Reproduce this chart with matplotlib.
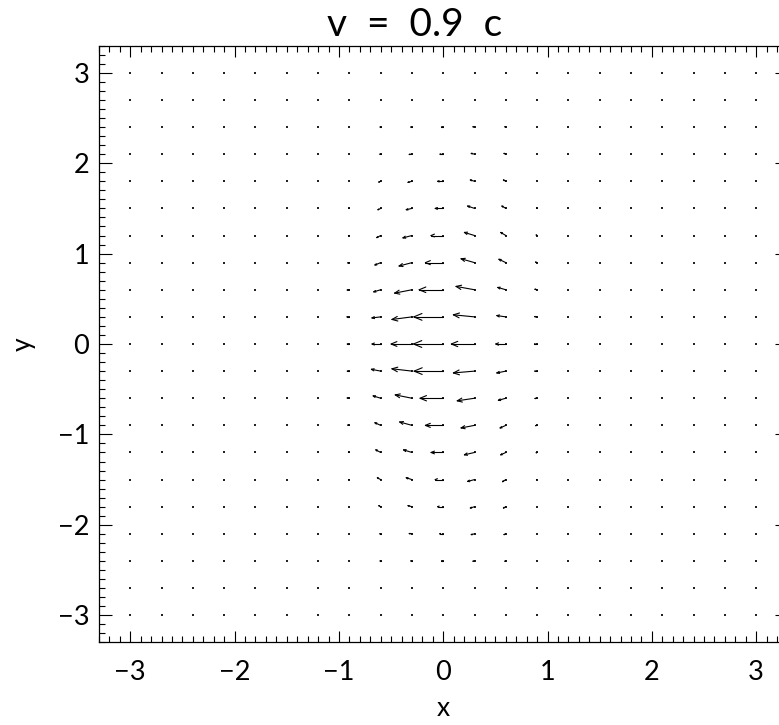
#!/usr/bin/env python3
import numpy as np
import matplotlib
matplotlib.use("Agg")
import matplotlib.pyplot as plt
from matplotlib.collections import LineCollection
from matplotlib.ticker import MultipleLocator

plt.rcParams["font.family"] = ["Lato", "DejaVu Sans"]

TITLE = "v  =  0.9  c"

# sample grid (every point gets a marker, even when the field is ~0)
X_GRID = [-3.0, -2.7, -2.4, -2.1, -1.8, -1.5, -1.2, -0.9, -0.6, -0.3, 0.0,
          0.3, 0.6, 0.9, 1.2, 1.5, 1.8, 2.1, 2.4, 2.7, 3.0]
Y_GRID = X_GRID

# central block where the field is non-negligible (normalised, centre = -1)
XC = [-0.9, -0.6, -0.3, 0.0, 0.3, 0.6, 0.9]
YC = [2.4, 2.1, 1.8, 1.5, 1.2, 0.9, 0.6, 0.3, 0.0,
      -0.3, -0.6, -0.9, -1.2, -1.5, -1.8, -2.1, -2.4]

U_BLOCK = [
    [0.00, -0.02, -0.04, -0.06, -0.05, -0.03, 0.00],
    [-0.01, -0.03, -0.09, -0.11, -0.11, -0.06, -0.01],
    [-0.01, -0.06, -0.13, -0.19, -0.14, -0.08, -0.01],
    [-0.02, -0.09, -0.19, -0.27, -0.23, -0.13, -0.02],
    [-0.03, -0.13, -0.30, -0.41, -0.34, -0.17, -0.03],
    [-0.05, -0.19, -0.43, -0.60, -0.45, -0.23, -0.05],
    [-0.07, -0.23, -0.58, -0.81, -0.62, -0.27, -0.07],
    [-0.08, -0.29, -0.67, -0.99, -0.71, -0.30, -0.08],
    [-0.07, -0.29, -0.70, -1.00, -0.78, -0.34, -0.09],
    [-0.07, -0.31, -0.67, -0.98, -0.71, -0.30, -0.08],
    [-0.07, -0.25, -0.56, -0.78, -0.58, -0.25, -0.07],
    [-0.05, -0.19, -0.41, -0.60, -0.45, -0.19, -0.05],
    [-0.03, -0.16, -0.28, -0.41, -0.34, -0.17, -0.03],
    [-0.02, -0.11, -0.19, -0.27, -0.23, -0.11, -0.02],
    [-0.01, -0.06, -0.13, -0.19, -0.14, -0.08, -0.01],
    [-0.01, -0.03, -0.09, -0.12, -0.11, -0.06, -0.01],
    [0.00, -0.02, -0.04, -0.06, -0.05, -0.03, 0.00],
]
V_BLOCK = [
    [0.00, 0.00, 0.00, 0.00, 0.01, 0.01, 0.00],
    [0.00, 0.00, -0.01, 0.00, 0.03, 0.03, 0.00],
    [0.00, -0.03, -0.04, 0.00, 0.05, 0.05, 0.00],
    [0.00, -0.05, -0.05, 0.00, 0.09, 0.09, 0.01],
    [-0.01, -0.08, -0.09, 0.00, 0.12, 0.12, 0.02],
    [-0.01, -0.09, -0.13, 0.00, 0.15, 0.13, 0.02],
    [-0.01, -0.08, -0.13, 0.00, 0.13, 0.09, 0.02],
    [0.00, -0.04, -0.10, 0.00, 0.08, 0.05, 0.01],
    [0.00, 0.00, 0.00, 0.00, 0.00, 0.00, 0.00],
    [0.00, 0.07, 0.09, 0.00, -0.07, -0.07, 0.00],
    [0.01, 0.09, 0.13, 0.00, -0.10, -0.08, -0.01],
    [0.01, 0.10, 0.13, 0.00, -0.10, -0.10, -0.01],
    [0.01, 0.10, 0.10, 0.00, -0.09, -0.09, -0.01],
    [0.00, 0.07, 0.07, 0.00, -0.07, -0.08, 0.00],
    [0.00, 0.04, 0.04, 0.00, -0.05, -0.05, 0.00],
    [0.00, 0.00, 0.01, 0.00, -0.03, -0.03, 0.00],
    [0.00, 0.00, 0.00, 0.00, -0.01, -0.01, 0.00],
]

XLIM = (-3.3, 3.3)
YLIM = (-3.3, 3.3)
ARROW_SCALE = 0.285   # data units per unit field
HEAD_FRAC = 0.3
HEAD_ANGLE = np.deg2rad(22.5)

W, H, DPI = 779, 725, 100
fig = plt.figure(figsize=(W / DPI, H / DPI), dpi=DPI)
ax_pos = [99 / W, 1 - 642.3 / H, (787.5 - 99) / W, (642.3 - 45.7) / H]
ax = fig.add_axes(ax_pos)
ax.set_xlim(*XLIM)
ax.set_ylim(*YLIM)

# pixels per data unit, so arrowheads keep their shape on screen
sx = ax_pos[2] * W / (XLIM[1] - XLIM[0])
sy = ax_pos[3] * H / (YLIM[1] - YLIM[0])

gx, gy = np.meshgrid(X_GRID, Y_GRID)
ax.scatter(gx.ravel(), gy.ravel(), s=0.7, marker="s", color="#222222",
           linewidths=0, zorder=2)

segs = []
for j, y0 in enumerate(YC):
    for i, x0 in enumerate(XC):
        dx = U_BLOCK[j][i] * ARROW_SCALE
        dy = V_BLOCK[j][i] * ARROW_SCALE
        px, py = dx * sx, dy * sy
        L = np.hypot(px, py)
        if L < 0.5:
            continue
        x1, y1 = x0 + dx, y0 + dy
        segs.append([(x0, y0), (x1, y1)])
        ang = np.arctan2(py, px)
        for s in (1, -1):
            a = ang + np.pi + s * HEAD_ANGLE
            hx = x1 + HEAD_FRAC * L * np.cos(a) / sx
            hy = y1 + HEAD_FRAC * L * np.sin(a) / sy
            segs.append([(x1, y1), (hx, hy)])

ax.add_collection(LineCollection(segs, colors="black", linewidths=0.8,
                                 capstyle="round", zorder=3))

# axes and ticks
for sp in ax.spines.values():
    sp.set_linewidth(0.9)
ax.set_xticks([-3, -2, -1, 0, 1, 2, 3])
ax.set_yticks([-3, -2, -1, 0, 1, 2, 3])
ax.xaxis.set_minor_locator(MultipleLocator(0.1))
ax.yaxis.set_minor_locator(MultipleLocator(0.1))
ax.tick_params(which="both", direction="in", top=True, right=True,
               width=0.8, labelsize=19.5)
ax.tick_params(axis="x", which="major", length=8, pad=13)
ax.tick_params(axis="x", which="minor", length=4)
ax.tick_params(axis="y", which="major", length=9.4, pad=7)
ax.tick_params(axis="y", which="minor", length=4.3)

fig.text(415 / W, 1 - 36 / H, TITLE, ha="center", va="baseline", fontsize=28)
fig.text(443 / W, 1 - 708 / H, "x", ha="center", va="center", fontsize=19)
fig.text(23 / W, 1 - 344 / H, "y", ha="center", va="center", fontsize=19,
         rotation=90)

fig.savefig("out.png", dpi=DPI)
